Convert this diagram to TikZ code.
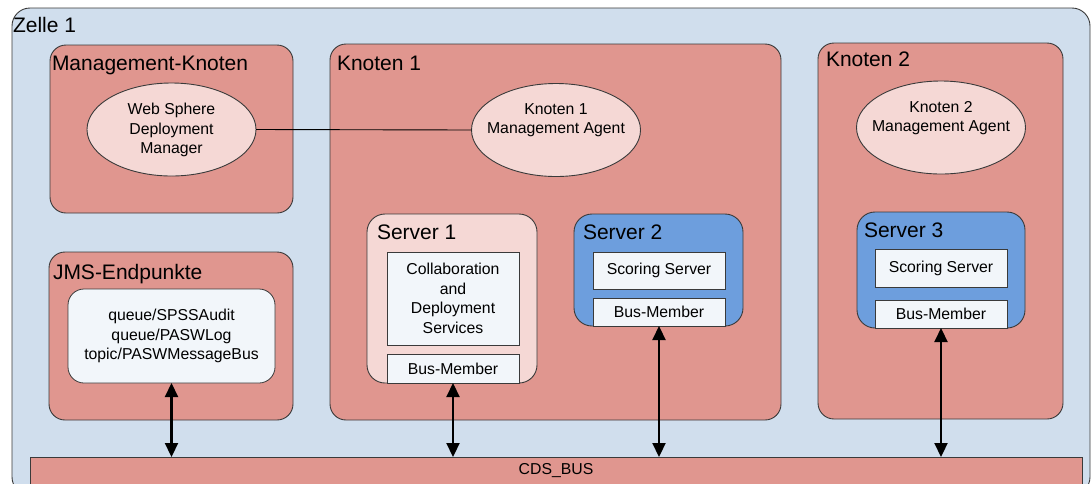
\documentclass[tikz,border=0pt]{standalone}
\usepackage{fontspec}
\setmainfont{Liberation Sans}
\usetikzlibrary{arrows.meta,shapes.geometric}
\definecolor{cellbg}{HTML}{D0DEED}
\definecolor{nodebg}{HTML}{E0968F}
\definecolor{pinkbg}{HTML}{F5D8D5}
\definecolor{srvblue}{HTML}{6D9EDD}
\definecolor{boxwhite}{HTML}{F2F6FA}
\definecolor{edge}{HTML}{3A3A3A}
\begin{document}
\begin{tikzpicture}[x=1pt,y=-1pt,
  every node/.style={inner sep=0pt, outer sep=0pt},
  frame/.style={draw=edge, line width=0.9pt, anchor=north west, rectangle},
  cont/.style={frame, rounded corners=16pt},
  title/.style={anchor=base west, font=\fontsize{21}{25}\selectfont, text=black},
  small/.style={font=\fontsize{15.8}{19.5}\selectfont, align=center, text=black},
  agent/.style={ellipse, draw=edge, line width=0.9pt, fill=pinkbg, minimum width=169pt, minimum height=93pt},
  inbox/.style={frame, fill=boxwhite, line width=0.8pt},
  biarrow/.style={{Triangle[width=13pt,length=14pt]}-{Triangle[width=13pt,length=14pt]}, line width=2.2pt}
]
\useasboundingbox (0,0) rectangle (1092,483);
\clip (0,0) rectangle (1092,483);
\fill[white] (0,0) rectangle (1092,483);

% cell
\node[cont, rounded corners=18pt, fill=cellbg, minimum width=1078pt, minimum height=487pt] (cell) at (12,8) {};
\node[title] (cellT) at (13,32) {Zelle 1};

% management node
\node[cont, fill=nodebg, minimum width=243pt, minimum height=168pt] (mgmt) at (50,45) {};
\node[title] (mgmtT) at (52,70) {Management-Knoten};
\node[agent] (wsdm) at (171.5,129.5) {};
\node[small] (wsdmT) at (171.5,130) {Web Sphere\\Deployment\\Manager};

% JMS
\node[cont, fill=nodebg, minimum width=244pt, minimum height=168pt] (jms) at (49,252) {};
\node[title] (jmsT) at (53,279) {JMS-Endpunkte};
\node[inbox, rounded corners=16pt, minimum width=207pt, minimum height=94pt] (jmsbox) at (68,289) {};
\node[small] (jmsboxT) at (jmsbox.center) {queue/SPSSAudit\\queue/PASWLog\\topic/PASWMessageBus};

% Knoten 1
\node[cont, fill=nodebg, minimum width=451pt, minimum height=376pt] (k1) at (330,44) {};
\node[title] (k1T) at (337,70) {Knoten 1};
\node[agent] (agent1) at (556,130) {};
\node[small] (agent1T) at (556,120) {Knoten 1\\Management Agent};

% Server 1
\node[cont, rounded corners=18pt, fill=pinkbg, minimum width=170pt, minimum height=169pt] (s1) at (367,214) {};
\node[title] (s1T) at (377,239) {Server 1};
\node[inbox, minimum width=132pt, minimum height=93pt] (collab) at (387,252) {};
\node[small] (collabT) at (collab.center) {Collaboration\\and\\Deployment\\Services};
\node[inbox, minimum width=132pt, minimum height=29pt] (bm1) at (387,354) {};
\node[small] (bm1T) at (bm1.center) {Bus-Member};

% Server 2
\node[cont, rounded corners=18pt, fill=srvblue, minimum width=169pt, minimum height=112pt] (s2) at (574,214) {};
\node[title] (s2T) at (583,239) {Server 2};
\node[inbox, minimum width=132pt, minimum height=37pt] (score2) at (593,252) {};
\node[small] (score2T) at (score2.center) {Scoring Server};
\node[inbox, minimum width=132pt, minimum height=28pt] (bm2) at (593,298) {};
\node[small] (bm2T) at (bm2.center) {Bus-Member};

% Knoten 2
\node[cont, fill=nodebg, minimum width=245pt, minimum height=376pt] (k2) at (818,43) {};
\node[title] (k2T) at (826,66) {Knoten 2};
\node[agent] (agent2) at (941,127.5) {};
\node[small] (agent2T) at (941,118) {Knoten 2\\Management Agent};

% Server 3
\node[cont, rounded corners=18pt, fill=srvblue, minimum width=168pt, minimum height=116pt] (s3) at (857,212) {};
\node[title] (s3T) at (864,237) {Server 3};
\node[inbox, minimum width=132pt, minimum height=38pt] (score3) at (875,249) {};
\node[small] (score3T) at (score3.center) {Scoring Server};
\node[inbox, minimum width=132pt, minimum height=28pt] (bm3) at (875,300) {};
\node[small] (bm3T) at (bm3.center) {Bus-Member};

% bus
\node[frame, fill=nodebg, minimum width=1052pt, minimum height=50pt] (bus) at (30,457) {};
\node[small] (busT) at (556,471) {CDS\_BUS};

% connectors
\draw[line width=0.9pt] (wsdm.east) -- (agent1.west);
\draw[biarrow] (jmsbox.south) -- (jmsbox.south |- bus.north);
\draw[biarrow] (bm1.south) -- (bm1.south |- bus.north);
\draw[biarrow] (bm2.south) -- (bm2.south |- bus.north);
\draw[biarrow] (bm3.south) -- (bm3.south |- bus.north);
\end{tikzpicture}
\end{document}
